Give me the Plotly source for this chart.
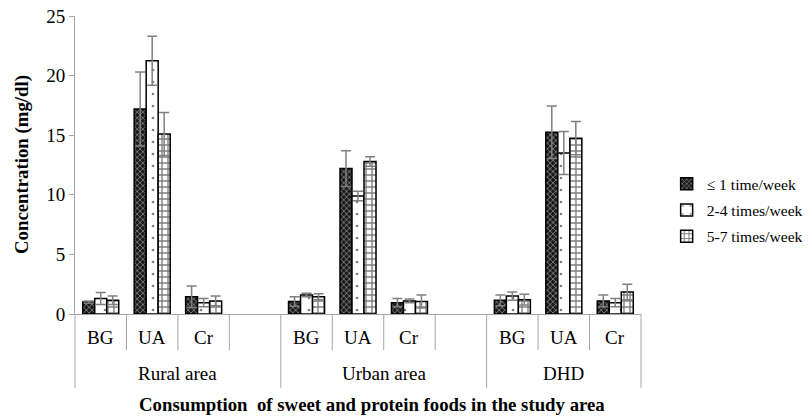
import plotly.graph_objects as go

groups = ["Rural area", "Urban area", "DHD"]
markers = ["BG", "UA", "Cr"]
series_names = ["≤ 1 time/week", "2-4 times/week", "5-7 times/week"]

le1_vals = [1.0, 17.2, 1.45, 1.05, 12.2, 0.95, 1.15, 15.25, 1.1]
le1_err = [0.1, 3.1, 0.9, 0.4, 1.5, 0.35, 0.45, 2.2, 0.5]
t24_vals = [1.3, 21.25, 0.95, 1.6, 9.9, 1.1, 1.5, 13.5, 0.95]
t24_err = [0.5, 2.05, 0.35, 0.15, 0.4, 0.15, 0.35, 1.8, 0.35]
t57_vals = [1.15, 15.1, 1.1, 1.45, 12.8, 1.05, 1.2, 14.75, 1.85]
t57_err = [0.35, 1.8, 0.4, 0.25, 0.4, 0.55, 0.45, 1.4, 0.65]

y_ticks = [0, 5, 10, 15, 20, 25]

SLOTS_PER_GROUP = 4
n_slots = SLOTS_PER_GROUP * (len(groups) - 1) + len(markers)  # 11
xpos = [g * SLOTS_PER_GROUP + m for g in range(len(groups)) for m in range(len(markers))]

FONT = "Liberation Serif, Times New Roman, serif"
GRAY = "#a6a6a6"

patterns = [
    dict(shape="x", bgcolor="#1a1a1a", fgcolor="#ffffff", size=4, solidity=0.35, fillmode="overlay"),
    dict(shape=".", bgcolor="#ffffff", fgcolor="#000000", size=12, solidity=0.04, fillmode="overlay"),
    dict(shape="+", bgcolor="#ffffff", fgcolor="#000000", size=6, solidity=0.4, fillmode="overlay"),
]
vals = [le1_vals, t24_vals, t57_vals]
errs = [le1_err, t24_err, t57_err]

fig = go.Figure()
for i, name in enumerate(series_names):
    fig.add_trace(go.Bar(
        x=xpos, y=vals[i], name=name, legendgroup=name,
        marker=dict(color="#ffffff", pattern=patterns[i], line=dict(color="#000000", width=1.5)),
        error_y=dict(type="data", array=errs[i], visible=True, color="#808080", thickness=1.5, width=5),
    ))

# separators and labels for the two-level category axis
def xp(v):
    return (v + 0.5) / n_slots

shapes = []
for k in range(n_slots + 1):
    long_line = (k % SLOTS_PER_GROUP == 0) or k == n_slots
    shapes.append(dict(type="line", xref="paper", yref="paper",
                       x0=k / n_slots, x1=k / n_slots, y0=0,
                       y1=-0.248 if long_line else -0.121,
                       line=dict(color=GRAY, width=1)))

annotations = []
for g in range(len(groups)):
    for m, lab in enumerate(markers):
        annotations.append(dict(text=lab, x=xp(g * SLOTS_PER_GROUP + m), y=-0.0805,
                                xref="paper", yref="paper", showarrow=False,
                                xanchor="center", yanchor="middle",
                                font=dict(family=FONT, size=19, color="#000")))
    start = g * SLOTS_PER_GROUP
    end = min(start + SLOTS_PER_GROUP, n_slots)
    annotations.append(dict(text=groups[g], x=(start + end) / 2 / n_slots, y=-0.201,
                            xref="paper", yref="paper", showarrow=False,
                            xanchor="center", yanchor="middle",
                            font=dict(family=FONT, size=19, color="#000")))
annotations.append(dict(text="<b>Consumption  of sweet and protein foods in the study area</b>",
                        x=0.525, y=-0.305, xref="paper", yref="paper", showarrow=False,
                        xanchor="center", yanchor="middle",
                        font=dict(family=FONT, size=18.8, color="#000")))
annotations.append(dict(text="<b>Concentration (mg/dl)</b>", textangle=-90,
                        x=-0.0936, y=0.5, xref="paper", yref="paper", showarrow=False,
                        xanchor="center", yanchor="middle",
                        font=dict(family=FONT, size=18.8, color="#000")))

fig.update_layout(
    width=812, height=417,
    margin=dict(l=75, r=171, t=16, b=103, autoexpand=False),
    paper_bgcolor="white", plot_bgcolor="white",
    barmode="group", bargap=0.3, bargroupgap=0,
    font=dict(family=FONT, color="#000"),
    showlegend=True,
    legend=dict(x=0.821, xref="container", y=0.349, xanchor="left", yanchor="middle",
                font=dict(family=FONT, size=15.6, color="#000"),
                tracegroupgap=3, itemwidth=30, bgcolor="rgba(0,0,0,0)"),
    shapes=shapes, annotations=annotations,
    xaxis=dict(range=[-0.5, n_slots - 0.5], showticklabels=False, ticks="",
               automargin=False,
               showline=True, linecolor=GRAY, linewidth=1, showgrid=False, zeroline=False),
    yaxis=dict(range=[0, 25], tickvals=y_ticks, ticks="outside", ticklen=5, tickcolor=GRAY,
               automargin=False,
               showline=True, linecolor=GRAY, linewidth=1, showgrid=False, zeroline=False,
               tickfont=dict(family=FONT, size=19, color="#000")),
)

fig.write_html("out.html", config={"displayModeBar": False},
               post_script="document.body.style.margin='0';document.body.style.overflow='hidden';")
